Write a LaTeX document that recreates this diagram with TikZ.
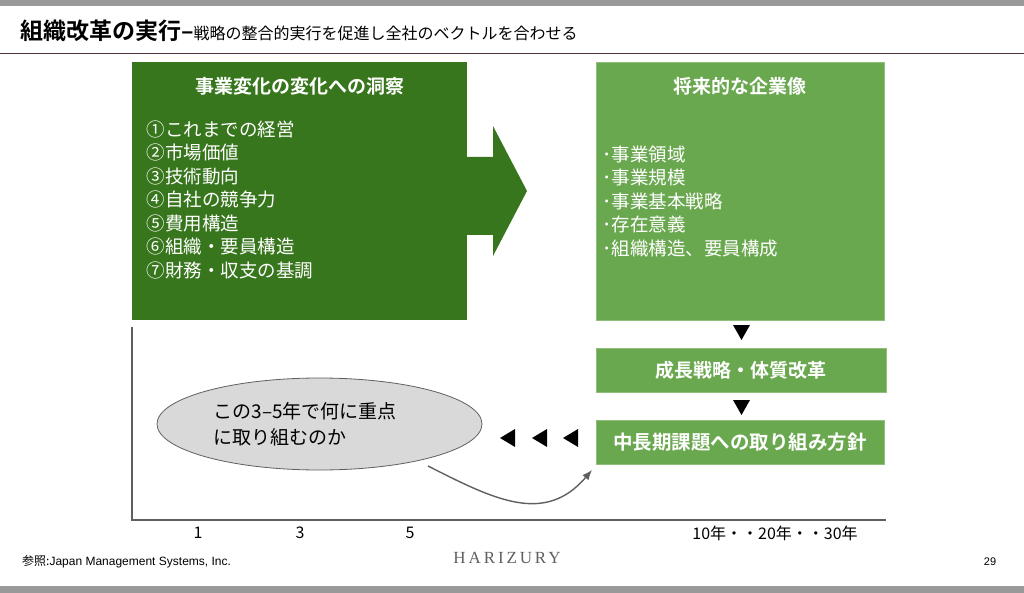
\documentclass[tikz,border=0pt]{standalone}
\usepackage{fontspec}
\usepackage{tikz}
\usetikzlibrary{arrows.meta,positioning,shapes.geometric}
\setmainfont{Noto Sans CJK JP}[BoldFont={Noto Sans CJK JP Bold}]
\newfontfamily\latinfont{Liberation Sans}
\newfontfamily\logofont{Liberation Serif}[LetterSpace=17]
\definecolor{DarkGreen}{HTML}{38761D}
\definecolor{LightGreen}{HTML}{6AA84F}
\definecolor{EdgeGreen}{HTML}{8FBF7A}
\definecolor{AxisGray}{HTML}{5F5F5F}
\definecolor{PaleGray}{HTML}{D9D9D9}
\definecolor{BarGray}{HTML}{999999}
\definecolor{RuleBrown}{HTML}{4E3434}

\begin{document}
\begin{tikzpicture}[x=1pt,y=-1pt,
  darkbox/.style={fill=DarkGreen,minimum width=335pt,minimum height=258pt,inner sep=0pt},
  lightbox/.style={fill=LightGreen,draw=EdgeGreen,line width=0.6pt,inner sep=0pt},
  heading/.style={text=white,font=\bfseries\fontsize{19}{22}\selectfont},
  items/.style={text=white,align=left,font=\fontsize{18.5}{23.5}\selectfont,anchor=north west},
  stepmark/.style={fill=black},
  axis/.style={AxisGray,line width=2.6pt},
  ticklabel/.style={font=\fontsize{16}{18}\selectfont},
  arrow/.style={-{Latex[length=10pt,width=8pt]},line width=1.4pt,draw=AxisGray}
]
  \useasboundingbox (0,0) rectangle (1024,593);
  % frame of the slide
  \fill[BarGray] (0,0) rectangle (1024,6);
  \fill[BarGray] (0,586) rectangle (1024,593);
  \draw[RuleBrown,line width=1.2pt] (0,53.5) -- (1024,53.5);
  \node[anchor=base west,inner sep=0pt] (title) at (20,40)
    {\bfseries\fontsize{23}{26}\selectfont 組織改革の実行–\mdseries\fontsize{16}{19}\selectfont 戦略の整合的実行を促進し全社のベクトルを合わせる};

  % insight block with its arrow
  \node[darkbox] (insight) at (299.5,191) {};
  \fill[DarkGreen] (466,157) -- (493,157) -- (493,126) -- (527,191)
    -- (493,256) -- (493,235) -- (466,235) -- cycle;
  \node[heading] (insighthead) at (299.5,86) {事業変化の変化への洞察};
  \node[items] (insightlist) at (143,117)
    {①これまでの経営\\②市場価値\\③技術動向\\④自社の競争力\\⑤費用構造\\⑥組織・要員構造\\⑦財務・収支の基調};

  % future image and the steps below it
  \node[lightbox,minimum width=288pt,minimum height=258pt] (future) at (740,191) {};
  \node[heading] (futurehead) at (740,86) {将来的な企業像};
  \node[items] (futurelist) at (599,142)
    {･事業領域\\･事業規模\\･事業基本戦略\\･存在意義\\･組織構造、要員構成};
  \node[lightbox,minimum width=290pt,minimum height=44pt,heading] (growth) at (741,370) {成長戦略・体質改革};
  \node[lightbox,minimum width=288pt,minimum height=44pt,heading,font=\bfseries\fontsize{19.5}{22}\selectfont] (policy) at (740,442) {中長期課題への取り組み方針\hspace{12pt}};
  \fill[stepmark] (733,325) -- (750,325) -- (741.5,340) -- cycle;
  \fill[stepmark] (733,400) -- (750,400) -- (741.5,415) -- cycle;
  \foreach \x in {500,532,563}
    \fill[stepmark] (\x,438) -- (\x+15,429) -- (\x+15,447) -- cycle;

  % time axis
  \draw[axis] (132,327) -- (132,520) -- (886,520);
  \node[ticklabel] (one) at (198,533) {1};
  \node[ticklabel] (three) at (300,533) {3};
  \node[ticklabel] (five) at (410,533) {5};
  \node[ticklabel] (decades) at (775,533) {10年・・20年・・30年};

  % question and its link to the policy
  \node[ellipse,draw=AxisGray,fill=PaleGray,line width=0.8pt,
        minimum width=325pt,minimum height=92pt,inner sep=0pt,
        text width=212pt,align=left,font=\fontsize{19}{26}\selectfont] (focus) at (319.5,424)
    {この3–5年で何に重点\\に取り組むのか};
  \coordinate (focusfoot) at (428,466);
  \coordinate (policyfoot) at (592,470);
  \draw[arrow] (focusfoot) .. controls (495,500) and (545,525) .. (policyfoot);

  % footer
  \node[anchor=base west,inner sep=0pt,font=\fontsize{12}{14}\selectfont] (source) at (22,565)
    {参照:\latinfont Japan Management Systems, Inc.};
  \node[anchor=base,inner sep=0pt,text=AxisGray,font=\logofont\fontsize{17}{20}\selectfont] (logo) at (507,563) {HARIZURY};
  \node[anchor=base,inner sep=0pt,font=\latinfont\fontsize{11}{13}\selectfont] (page) at (990,565) {29};
\end{tikzpicture}
\end{document}
